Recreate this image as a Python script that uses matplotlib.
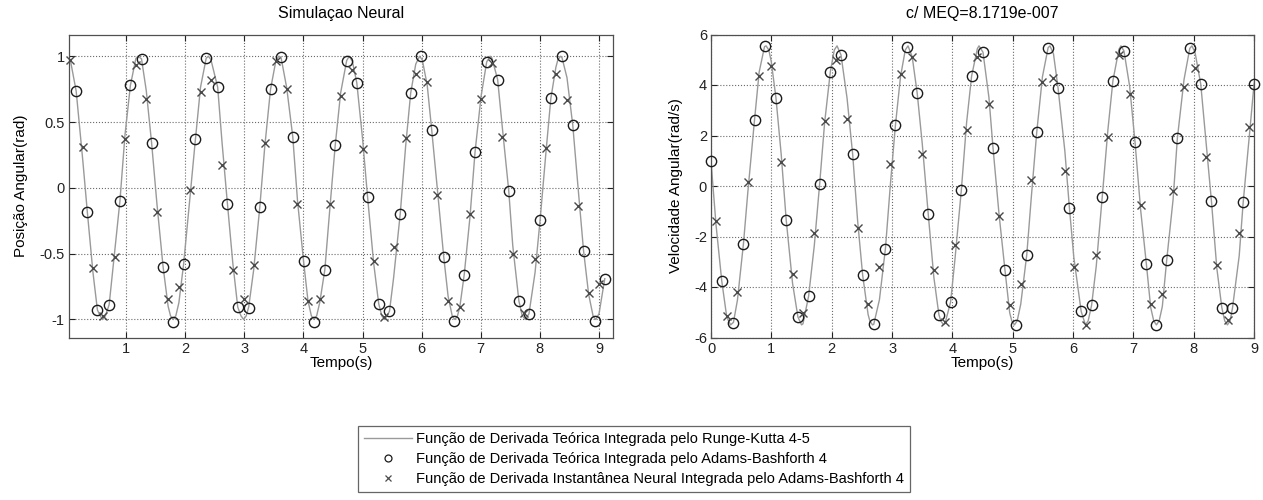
import matplotlib
matplotlib.use("Agg")
import numpy as np
import matplotlib.pyplot as plt
from matplotlib.lines import Line2D

plt.rcParams['font.family'] = ['Liberation Sans', 'DejaVu Sans']
plt.rcParams['axes.unicode_minus'] = False

# --- posicao angular (rad) ---
# Runge-Kutta 4-5 (curva continua)
rk_pos_t = [0.0, 0.06, 0.157, 0.27, 0.345, 0.44, 0.516, 0.5615, 0.6065, 0.6515, 0.715,
            0.81, 0.897, 0.983, 1.074, 1.166, 1.202, 1.262, 1.342, 1.433, 1.524, 1.627,
            1.712, 1.7525, 1.7975, 1.8425, 1.894, 1.974, 2.082, 2.174, 2.26, 2.356, 2.393,
            2.436, 2.55, 2.624, 2.715, 2.806, 2.89, 2.9435, 2.9885, 3.0335, 3.075, 3.159,
            3.262, 3.347, 3.444, 3.535, 3.584, 3.621, 3.718, 3.82, 3.9, 4.003, 4.077,
            4.1345, 4.1795, 4.2245, 4.277, 4.362, 4.448, 4.538, 4.63, 4.732, 4.775, 4.829,
            4.903, 5.0, 5.085, 5.188, 5.274, 5.3255, 5.3705, 5.4155, 5.456, 5.525, 5.638,
            5.73, 5.815, 5.9, 5.966, 6.011, 6.094, 6.17, 6.265, 6.373, 6.447, 6.5165,
            6.5615, 6.6065, 6.647, 6.72, 6.817, 6.903, 7.005, 7.1, 7.157, 7.188, 7.285,
            7.359, 7.473, 7.541, 7.645, 7.7, 7.7525, 7.815, 7.918, 8.003, 8.1, 8.185,
            8.27, 8.303, 8.348, 8.373, 8.458, 8.556, 8.641, 8.738, 8.824, 8.8985, 8.9435,
            9.0, 9.097]
rk_pos = [1.0, 0.967, 0.735, 0.203, -0.18, -0.639, -0.927, -0.972, -1.0, -0.972, -0.887,
          -0.477, -0.10, 0.404, 0.778, 0.982, 1.0, 0.98, 0.740, 0.34, -0.127, -0.60,
          -0.900, -0.972, -1.0, -0.972, -0.873, -0.58, -0.070, 0.37, 0.764, 0.985, 1.0,
          0.974, 0.765, 0.345, -0.12, -0.571, -0.907, -0.972, -1.0, -0.972, -0.905, -0.623,
          -0.149, 0.316, 0.748, 0.967, 1.0, 0.992, 0.760, 0.389, -0.096, -0.558, -0.857,
          -0.972, -1.0, -0.972, -0.870, -0.624, -0.153, 0.323, 0.722, 0.967, 1.0, 0.960,
          0.798, 0.375, -0.068, -0.571, -0.881, -0.972, -1.0, -0.972, -0.937, -0.686, -0.195,
          0.321, 0.722, 0.940, 1.0, 0.972, 0.780, 0.44, -0.007, -0.523, -0.823, -0.972,
          -1.0, -0.972, -0.900, -0.659, -0.222, 0.273, 0.696, 0.957, 1.0, 0.987, 0.823,
          0.483, -0.023, -0.440, -0.861, -0.97, -1.0, -0.957, -0.643, -0.245, 0.259, 0.679,
          0.916, 0.972, 1.0, 0.99, 0.837, 0.475, 0.024, -0.477, -0.808, -0.972, -1.0,
          -0.956, -0.69]

# Adams-Bashforth 4 com derivada teorica
ab_pos_t = [0.157, 0.345, 0.516, 0.715, 0.897, 1.074, 1.262, 1.433, 1.627, 1.79,
            1.974, 2.174, 2.356, 2.55, 2.715, 2.89, 3.075, 3.262, 3.444, 3.621,
            3.82, 4.003, 4.174, 4.362, 4.538, 4.732, 4.903, 5.085, 5.274, 5.456,
            5.638, 5.815, 5.986, 6.17, 6.373, 6.55, 6.72, 6.903, 7.1, 7.285,
            7.473, 7.645, 7.815, 8.003, 8.185, 8.373, 8.556, 8.738, 8.926, 9.097]
ab_pos = [0.735, -0.18, -0.927, -0.887, -0.10, 0.778, 0.98, 0.34, -0.60, -1.02,
          -0.58, 0.37, 0.99, 0.765, -0.12, -0.907, -0.915, -0.149, 0.748, 0.992,
          0.389, -0.558, -1.02, -0.624, 0.323, 0.967, 0.798, -0.068, -0.881, -0.937,
          -0.195, 0.722, 1.0, 0.44, -0.523, -1.013, -0.659, 0.273, 0.957, 0.823,
          -0.023, -0.861, -0.957, -0.245, 0.679, 1.0, 0.475, -0.477, -1.01, -0.692]

# Adams-Bashforth 4 com derivada neural
nn_pos_t = [0.06, 0.27, 0.44, 0.61, 0.81, 0.983, 1.166, 1.342, 1.524, 1.712,
            1.894, 2.082, 2.26, 2.436, 2.624, 2.806, 2.995, 3.159, 3.347, 3.535,
            3.718, 3.9, 4.077, 4.277, 4.448, 4.63, 4.829, 5.0, 5.188, 5.37,
            5.525, 5.73, 5.9, 6.094, 6.265, 6.447, 6.647, 6.817, 7.005, 7.188,
            7.359, 7.541, 7.73, 7.918, 8.1, 8.27, 8.458, 8.641, 8.824, 9.0]
nn_pos = [0.975, 0.313, -0.61, -0.977, -0.523, 0.374, 0.937, 0.672, -0.187, -0.843,
          -0.755, -0.018, 0.727, 0.816, 0.172, -0.624, -0.843, -0.583, 0.338, 0.967,
          0.748, -0.119, -0.856, -0.843, -0.119, 0.697, 0.892, 0.293, -0.553, -0.98,
          -0.447, 0.381, 0.866, 0.803, -0.056, -0.861, -0.907, -0.195, 0.672, 0.95,
          0.386, -0.503, -0.95, -0.54, 0.30, 0.866, 0.664, -0.136, -0.80, -0.73]

# --- velocidade angular (rad/s) ---
rk_vel_t = [0.0, 0.083, 0.177, 0.26, 0.3233, 0.371, 0.437, 0.537, 0.609, 0.72, 0.797,
            0.886, 0.9115, 0.9565, 0.997, 1.075, 1.163, 1.246, 1.351, 1.44, 1.4998, 1.523,
            1.617, 1.711, 1.8, 1.882, 1.977, 2.043, 2.088, 2.154, 2.254, 2.347, 2.43,
            2.513, 2.603, 2.6313, 2.6763, 2.696, 2.791, 2.89, 2.973, 3.056, 3.14, 3.2195,
            3.2645, 3.334, 3.417, 3.5, 3.6, 3.693, 3.776, 3.8078, 3.8528, 3.876, 3.97,
            4.042, 4.148, 4.236, 4.319, 4.414, 4.441, 4.507, 4.606, 4.673, 4.773, 4.872,
            4.95, 4.9843, 5.0293, 5.0743, 5.133, 5.233, 5.31, 5.399, 5.493, 5.587, 5.6175,
            5.676, 5.752, 5.864, 5.94, 6.013, 6.135, 6.2058, 6.2508, 6.307, 6.384, 6.484,
            6.578, 6.661, 6.76, 6.794, 6.844, 6.938, 7.027, 7.121, 7.215, 7.287, 7.3373,
            7.3823, 7.4273, 7.48, 7.553, 7.658, 7.73, 7.84, 7.935, 7.9705, 8.023, 8.117,
            8.2, 8.294, 8.383, 8.467, 8.5138, 8.5588, 8.6038, 8.643, 8.754, 8.82, 8.92,
            9.0, 9.09]
rk_vel = [0.95, -1.56, -3.76, -5.19, -5.5, -5.4, -4.52, -2.28, -0.25, 2.61, 4.51,
          5.52, 5.55, 5.39, 4.94, 3.5, 1.24, -1.36, -3.86, -5.19, -5.5, -5.46,
          -4.36, -2.36, 0.09, 2.50, 4.53, 5.39, 5.55, 5.19, 3.48, 1.26, -1.40,
          -3.54, -5.09, -5.34, -5.5, -5.48, -4.50, -2.48, 0.08, 2.41, 4.33, 5.39,
          5.55, 5.12, 3.67, 1.69, -1.12, -3.62, -5.09, -5.34, -5.5, -5.46, -4.6,
          -2.92, -0.17, 2.52, 4.36, 5.44, 5.55, 5.3, 3.50, 1.52, -1.11, -3.34,
          -5.02, -5.34, -5.5, -5.34, -4.68, -2.72, -0.39, 2.15, 4.33, 5.48, 5.55,
          5.23, 3.87, 1.39, -0.87, -2.83, -4.97, -5.5, -5.34, -4.73, -3.19, -0.43,
          2.23, 4.17, 5.41, 5.55, 5.35, 3.95, 1.75, -0.96, -3.08, -4.81, -5.34,
          -5.5, -5.34, -4.77, -2.92, -0.54, 1.91, 4.22, 5.45, 5.55, 5.28, 4.03,
          1.86, -0.60, -3.25, -4.83, -5.34, -5.5, -5.34, -4.83, -2.77, -0.65, 1.93,
          4.03, 5.25]

ab_vel_t = [0.0, 0.177, 0.371, 0.537, 0.72, 0.886, 1.075, 1.246, 1.44, 1.617,
            1.8, 1.977, 2.154, 2.347, 2.513, 2.696, 2.89, 3.056, 3.25, 3.417,
            3.6, 3.776, 3.97, 4.148, 4.319, 4.507, 4.673, 4.872, 5.05, 5.233,
            5.399, 5.587, 5.752, 5.94, 6.135, 6.307, 6.484, 6.661, 6.844, 7.027,
            7.215, 7.38, 7.553, 7.73, 7.935, 8.117, 8.294, 8.467, 8.643, 8.82, 9.0]
ab_vel = [1.0, -3.76, -5.43, -2.28, 2.61, 5.55, 3.5, -1.36, -5.19, -4.36,
          0.09, 4.53, 5.19, 1.26, -3.54, -5.48, -2.48, 2.41, 5.52, 3.67,
          -1.12, -5.09, -4.6, -0.17, 4.36, 5.3, 1.52, -3.34, -5.52, -2.72,
          2.15, 5.48, 3.87, -0.87, -4.97, -4.73, -0.43, 4.17, 5.35, 1.75,
          -3.08, -5.52, -2.92, 1.91, 5.46, 4.03, -0.60, -4.83, -4.83, -0.65, 4.03]

nn_vel_t = [0.083, 0.26, 0.437, 0.609, 0.797, 0.997, 1.163, 1.351, 1.523, 1.711,
            1.882, 2.07, 2.254, 2.43, 2.603, 2.791, 2.973, 3.14, 3.334, 3.5,
            3.693, 3.876, 4.042, 4.236, 4.414, 4.606, 4.773, 4.95, 5.133, 5.31,
            5.493, 5.676, 5.864, 6.013, 6.207, 6.384, 6.578, 6.76, 6.938, 7.121,
            7.287, 7.48, 7.658, 7.84, 8.023, 8.2, 8.383, 8.57, 8.754, 8.92]
nn_vel = [-1.40, -5.13, -4.2, 0.14, 4.37, 4.75, 0.96, -3.5, -5.02, -1.85,
          2.57, 4.99, 2.65, -1.66, -4.66, -3.21, 0.89, 4.44, 5.09, 1.25,
          -3.34, -5.39, -2.32, 2.21, 5.09, 3.23, -1.18, -4.73, -3.87, 0.23,
          4.13, 4.27, 0.59, -3.21, -5.5, -2.72, 1.95, 5.2, 3.63, -0.76,
          -4.66, -4.29, -0.21, 3.94, 4.66, 1.16, -3.11, -5.3, -1.88, 2.35]

titles = ['Simulaçao Neural', 'c/ MEQ=8.1719e-007']
ylabels = ['Posição Angular(rad)', 'Velocidade Angular(rad/s)']
legend_labels = ['Função de Derivada Teórica Integrada pelo Runge-Kutta 4-5',
                 'Função de Derivada Teórica Integrada pelo Adams-Bashforth 4',
                 'Função de Derivada Instantânea Neural Integrada pelo Adams-Bashforth 4']

line_color = '#9a9a9a'
circle_color = '#1a1a1a'
cross_color = '#4a4a4a'
tick_fs = 10.5
label_fs = 11.0
title_fs = 11.5
legend_fs = 10.5

fig = plt.figure(figsize=(12.63, 5.0), dpi=100)
ax1 = fig.add_axes([0.0546, 0.325, 0.4307, 0.606])
ax2 = fig.add_axes([0.5630, 0.325, 0.4299, 0.606])

panels = [
    (ax1, rk_pos_t, rk_pos, ab_pos_t, ab_pos, nn_pos_t, nn_pos),
    (ax2, rk_vel_t, rk_vel, ab_vel_t, ab_vel, nn_vel_t, nn_vel),
]
for ax, lt, ly, ct, cy, xt, xy in panels:
    ax.plot(lt, ly, color=line_color, lw=1.0, zorder=2)
    ax.plot(ct, cy, ls='none', marker='o', ms=7.4, mfc='none', mec=circle_color,
            mew=1.0, zorder=3, clip_on=False)
    ax.plot(xt, xy, ls='none', marker='x', ms=5.4, mec=cross_color, mew=1.0,
            zorder=4, clip_on=False)
    ax.set_axisbelow(True)
    ax.grid(True, ls=':', color='#6a6a6a', lw=0.8)
    ax.tick_params(direction='in', top=True, right=True, length=4, width=0.8,
                   labelsize=tick_fs, colors='#222222', pad=3)
    for s in ax.spines.values():
        s.set_color('#505050')
        s.set_linewidth(0.9)
    ax.set_xlabel('Tempo(s)', fontsize=label_fs, labelpad=0)

ax1.set_xlim(0.035, 9.235)
ax1.set_ylim(-1.137, 1.165)
ax1.set_xticks(np.arange(1, 10))
ax1.set_yticks([-1, -0.5, 0, 0.5, 1])
ax1.set_yticklabels(['-1', '-0.5', '0', '0.5', '1'])

ax2.set_xlim(0, 9)
ax2.set_ylim(-6, 6)
ax2.set_xticks(np.arange(0, 10))
ax2.set_yticks(np.arange(-6, 7, 2))

for ax, t, yl in zip([ax1, ax2], titles, ylabels):
    ax.set_title(t, fontsize=title_fs, pad=12)
    ax.set_ylabel(yl, fontsize=label_fs, labelpad=8)

handles = [
    Line2D([], [], color=line_color, lw=1.0),
    Line2D([], [], ls='none', marker='o', ms=5, mfc='none', mec=circle_color, mew=0.9),
    Line2D([], [], ls='none', marker='x', ms=4, mec=cross_color, mew=0.9),
]
leg = fig.legend(handles, legend_labels, loc='upper left',
                 bbox_to_anchor=(358 / 1263, 1 - 426 / 500), fontsize=legend_fs,
                 frameon=True, fancybox=False, edgecolor='#404040',
                 handlelength=3.3, handletextpad=0.3, labelspacing=0.42,
                 borderpad=0.4, borderaxespad=0)
leg.get_frame().set_linewidth(0.9)

fig.savefig('out.png', dpi=100)
